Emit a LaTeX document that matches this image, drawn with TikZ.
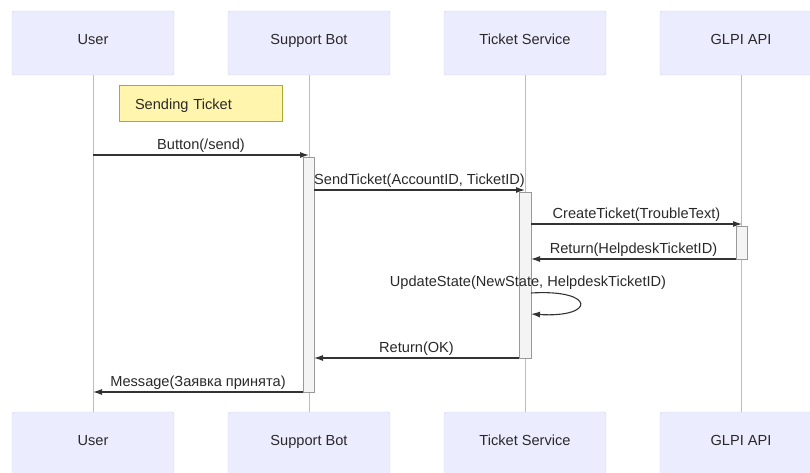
\documentclass[tikz,border=0pt]{standalone}
\usepackage{fontspec}
\setmainfont{Liberation Sans}
\usetikzlibrary{arrows.meta}
\usetikzlibrary{positioning}

\definecolor{actorfill}{HTML}{ECECFF}
\definecolor{actorline}{HTML}{D4D0F2}
\definecolor{notefill}{HTML}{FFF5AD}
\definecolor{noteline}{HTML}{AAAA33}
\definecolor{actfill}{HTML}{F4F4F4}
\definecolor{msgline}{HTML}{333333}
\definecolor{lifegray}{HTML}{BDBDBD}

\begin{document}
\begin{tikzpicture}
	[
	x=1pt, y=-1pt,
	> = {Latex[length=9pt,width=6pt]},
	font=\fontsize{14.6}{17}\selectfont,
	actor/.style = {draw=actorline, fill=actorfill, rounded corners=2pt, minimum width=162pt, minimum height=64pt, inner sep=0pt},
	actorlbl/.style = {yshift=2pt, text=msgline!80!black, text height=10.5pt, text depth=3pt},
	note/.style = {draw=noteline, fill=notefill, minimum height=36pt, text width=131pt, inner xsep=16pt, align=left, text height=15pt, text depth=3pt, text=msgline!80!black},
	act/.style = {draw=gray!80, fill=actfill, line width=0.8pt},
	msg/.style = {->, draw=msgline, line width=1.1pt},
	txt/.style = {above, inner sep=2pt, text height=10.5pt, text depth=3pt, text=msgline!80!black}
	]
		\useasboundingbox (0,0) rectangle (810,472);
		\clip (0,0) rectangle (810,472);

		% actors and lifelines
		\foreach \n/\t/\x in {user/User/93, bot/Support Bot/309, tick/Ticket Service/525, glpi/GLPI API/741}
		{
			\node[actor, label={[actorlbl]center:\t}] (\n-t) at (\x,43) {};
			\node[actor, label={[actorlbl]center:\t}] (\n-b) at (\x,444) {};
			\draw[lifegray, line width=0.8pt] (\n-t) -- (\n-b);
		}

		\node[note] (sending) at (200.5,103) {Sending Ticket};

		% activations
		\draw[act] (303,157) rectangle (314,392);
		\draw[act] (519,192) rectangle (531,358);
		\draw[act] (736,226) rectangle (747,259);

		\coordinate (@1a) at (93,155);
		\coordinate (@1b) at (309,155);
		\coordinate (@2a) at (314,190);
		\coordinate (@2b) at (525,190);
		\coordinate (@3a) at (531,224);
		\coordinate (@3b) at (742,224);
		\coordinate (@4a) at (736,259);
		\coordinate (@4b) at (531,259);
		\coordinate (@5a) at (531,293);
		\coordinate (@5b) at (531,314);
		\coordinate (@6a) at (519,358);
		\coordinate (@6b) at (314,358);
		\coordinate (@7a) at (303,392);
		\coordinate (@7b) at (93,392);

		\draw[msg] (@1a) -- node[txt] {Button(/send)} (@1b);
		\draw[msg] (@2a) -- node[txt] {SendTicket(AccountID, TicketID)} (@2b);
		\draw[msg] (@3a) -- node[txt] {CreateTicket(TroubleText)} (@3b);
		\draw[msg] (@4a) -- node[txt] {Return(HelpdeskTicketID)} (@4b);
		\draw[msg] (@5a) .. controls (596,289) and (596,318) .. (@5b);
		\node[txt] (upd) at (528,292) {UpdateState(NewState, HelpdeskTicketID)};
		\draw[msg] (@6a) -- node[txt] {Return(OK)} (@6b);
		\draw[msg] (@7a) -- node[txt] {Message(Заявка принята)} (@7b);

	\end{tikzpicture}
\end{document}
